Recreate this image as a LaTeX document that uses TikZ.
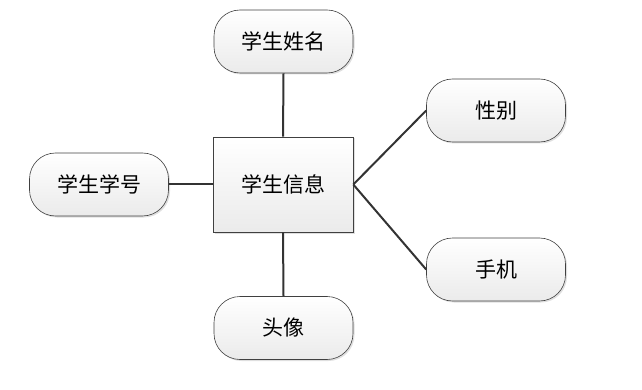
\documentclass[tikz,border=0pt]{standalone}
\usepackage{fontspec}
\newfontfamily\cjk{Noto Sans CJK SC}
\usetikzlibrary{shadows}
\begin{document}
\begin{tikzpicture}[x=1pt,y=-1pt,
  attr/.style={draw=black!75, line width=0.6pt, rounded corners=26pt, minimum width=139pt, minimum height=63pt,
    top color=white, bottom color=black!8, drop shadow={shadow xshift=1.5pt, shadow yshift=-1.5pt, opacity=0.25},
    font=\cjk\fontsize{21}{24}\selectfont},
  ent/.style={draw=black!75, line width=0.6pt, minimum width=140pt, minimum height=95pt,
    top color=white, bottom color=black!8, drop shadow={shadow xshift=1.5pt, shadow yshift=-1.5pt, opacity=0.25},
    font=\cjk\fontsize{21}{24}\selectfont},
  link/.style={draw=black!80, line width=2pt}]
\useasboundingbox (0,0) rectangle (642,390);
\node[ent] (c) at (283,184.5) {学生信息};
\node[attr] (n) at (283.5,41.5) {学生姓名};
\node[attr] (w) at (99,184.5) {学生学号};
\node[attr] (s) at (283.5,328) {头像};
\node[attr] (g) at (496,110.5) {性别};
\node[attr] (p) at (496,269.5) {手机};
\draw[link] (n.south) -- (c.north);
\draw[link] (s.north) -- (c.south);
\draw[link] (w.east) -- (c.west);
\draw[link] (c.east) -- (g.west);
\draw[link] (c.east) -- (p.west);
\end{tikzpicture}
\end{document}
